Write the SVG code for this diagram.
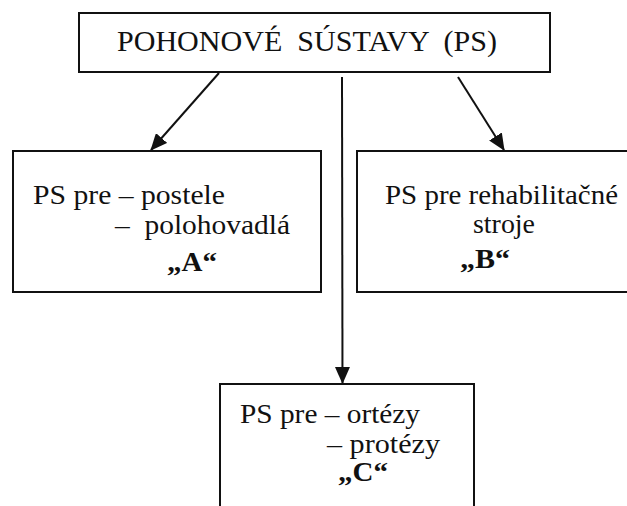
<svg xmlns="http://www.w3.org/2000/svg" width="627" height="506" viewBox="0 0 627 506">
  <style>
    .box { fill: #fff; stroke: #111; stroke-width: 2; }
    .conn line { stroke: #111; stroke-width: 2; }
  </style>
  <defs>
    <marker id="arrow" markerUnits="userSpaceOnUse" markerWidth="17" markerHeight="15" refX="16" refY="7.5" orient="auto">
      <path d="M0,0 L17,7.5 L0,15 Z" fill="#111"/>
    </marker>
  </defs>

  <rect width="627" height="506" fill="#fff"/>

  <!-- connectors from the main box to the three groups -->
  <g id="connectors" class="conn">
    <line x1="219" y1="73" x2="151" y2="150" marker-end="url(#arrow)"/>
    <line x1="342" y1="77" x2="342.5" y2="383" marker-end="url(#arrow)"/>
    <line x1="458" y1="77" x2="504" y2="150" marker-end="url(#arrow)"/>
  </g>

  <g font-family="Liberation Serif, Times New Roman, serif" fill="#111">
    <g id="node-ps">
      <rect class="box" x="79" y="13" width="471" height="59"/>
      <text x="117" y="51" font-size="28.5" textLength="380" lengthAdjust="spacingAndGlyphs" xml:space="preserve">POHONOVÉ  SÚSTAVY  (PS)</text>
    </g>

    <g id="node-a" font-size="28">
      <rect class="box" x="13" y="151" width="308" height="141"/>
      <text x="33" y="204" textLength="192" lengthAdjust="spacingAndGlyphs">PS pre – postele</text>
      <text x="115" y="234" textLength="175" lengthAdjust="spacingAndGlyphs" xml:space="preserve">–  polohovadlá</text>
      <text x="167" y="271" font-weight="bold" textLength="50" lengthAdjust="spacingAndGlyphs">„A“</text>
    </g>

    <g id="node-b" font-size="28">
      <rect class="box" x="357" y="151" width="290" height="141"/>
      <text x="385" y="204" textLength="233" lengthAdjust="spacingAndGlyphs">PS pre rehabilitačné</text>
      <text x="473" y="233" textLength="62" lengthAdjust="spacingAndGlyphs">stroje</text>
      <text x="460" y="268" font-weight="bold" textLength="50" lengthAdjust="spacingAndGlyphs">„B“</text>
    </g>

    <g id="node-c" font-size="28">
      <rect class="box" x="220" y="384" width="254" height="140"/>
      <text x="240" y="423" textLength="180" lengthAdjust="spacingAndGlyphs">PS pre – ortézy</text>
      <text x="327" y="453" textLength="113" lengthAdjust="spacingAndGlyphs">– protézy</text>
      <text x="338" y="481" font-weight="bold" textLength="50" lengthAdjust="spacingAndGlyphs">„C“</text>
    </g>
  </g>
</svg>
